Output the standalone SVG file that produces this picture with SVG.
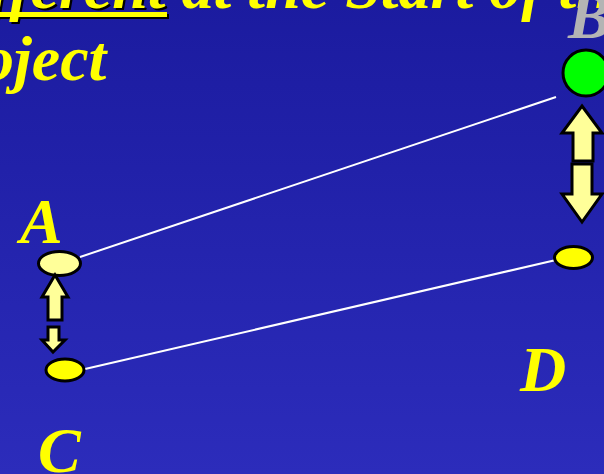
<svg xmlns="http://www.w3.org/2000/svg" width="604" height="474" viewBox="0 0 604 474">
<defs>
<linearGradient id="bg" x1="0" y1="0" x2="0" y2="1">
<stop offset="0" stop-color="#1b1b9f"/>
<stop offset="1" stop-color="#2c2cbb"/>
</linearGradient>
</defs>
<style>
.t{font-family:"Liberation Serif","Times New Roman",serif;font-weight:bold;font-style:italic;fill:#ffff00}
.lbl{font-family:"Liberation Serif","Times New Roman",serif;font-weight:bold;font-style:italic;font-size:64px;fill:#ffff00}
.arr{fill:#ffff99;stroke:#000;stroke-width:3;stroke-linejoin:miter}
.con{stroke:#fff;stroke-width:2;fill:none}
.node{stroke:#000;stroke-width:3}
</style>
<rect width="604" height="474" fill="url(#bg)"/>
<g id="title">
<text class="t" x="-73" y="10" font-size="64" style="fill:#000">Different</text>
<rect x="-73" y="14" width="242" height="5" fill="#000"/>
<text class="t" x="-75" y="8" font-size="64">Different<tspan> at the Start of the</tspan></text>
<rect x="-75" y="12" width="242" height="5" fill="#ffff00"/>
<text class="t" x="-82" y="80" font-size="64">Project</text>
</g>
<g id="connectors">
<line class="con" x1="80" y1="257" x2="556" y2="97"/>
<line class="con" x1="85" y1="369" x2="556" y2="260"/>
</g>
<g id="nodeA">
<text class="lbl" x="20" y="243">A</text>
<ellipse class="node" cx="59.5" cy="263.5" rx="21" ry="12" fill="#ffff99"/>
</g>
<g id="nodeB">
<text class="lbl" x="568" y="38" style="fill:#b4b4b4">B</text>
<circle class="node" cx="586" cy="73" r="23" fill="#00ff00"/>
</g>
<g id="nodeC">
<ellipse class="node" cx="65" cy="370" rx="19" ry="11" fill="#ffff00"/>
<text class="lbl" x="38" y="472">C</text>
</g>
<g id="nodeD">
<ellipse class="node" cx="573.5" cy="257.5" rx="19" ry="11" fill="#ffff00"/>
<text class="lbl" x="520" y="391">D</text>
</g>
<g id="arrowsAC">
<polygon class="arr" points="55,275 68,297 62,297 62,320 48,320 48,297 42,297"/>
<polygon class="arr" points="48,327 59,327 59,340 65,340 53,352 42,340 48,340"/>
</g>
<g id="arrowsBD">
<polygon class="arr" points="582,106 602,133 593,133 593,161 573,161 573,133 562,133"/>
<polygon class="arr" points="572,164 592,164 592,194 602,194 582,222 562,194 572,194"/>
</g>
</svg>
